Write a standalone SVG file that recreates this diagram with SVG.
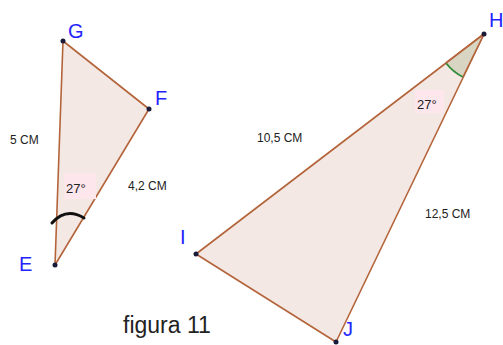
<svg xmlns="http://www.w3.org/2000/svg" width="503" height="345" viewBox="0 0 503 345">
<style>
.tri{fill:#f3e8e3;stroke:#b4643a;stroke-width:1.6;stroke-linejoin:round}
.pt{fill:#1a1a3a}
.lbl{font-family:"Liberation Sans",Arial,sans-serif;font-size:20px;fill:#2323ff}
.m{font-family:"Liberation Sans",Arial,sans-serif;font-size:12px;fill:#222}
.ang{font-family:"Liberation Sans",Arial,sans-serif;font-size:13px;fill:#222}
.tag{fill:#fde6ec}
</style>
<rect width="503" height="345" fill="#ffffff"/>
<g id="connectors"></g>
<g id="triangle-EFG">
<polygon class="tri" points="63,41 149,109 55,265"/>
<rect class="tag" x="64" y="173" width="32" height="26"/>
<text class="ang" x="66" y="193">27°</text>
<path id="arcE" d="M52,223 Q66,207 84,218" fill="none" stroke="#111" stroke-width="3" stroke-linecap="round"/>
<circle class="pt" cx="63" cy="41" r="2.5"/>
<circle class="pt" cx="149" cy="109" r="2.5"/>
<circle class="pt" cx="55" cy="265" r="2.5"/>
</g>
<g id="triangle-HIJ">
<polygon class="tri" points="484,34 196,254 336,342"/>
<path d="M484,34 L446,63 A48,48 0 0 0 463,77 Z" fill="#d9d5c3" stroke="none"/>
<path d="M446,63 A48,48 0 0 0 463,77" fill="none" stroke="#2e8b3a" stroke-width="1.8"/>
<polyline points="446,63 484,34 463,77" fill="none" stroke="#b4643a" stroke-width="1.6"/>
<rect class="tag" x="415" y="90" width="29" height="23"/>
<text class="ang" x="417" y="109">27°</text>
<circle class="pt" cx="484" cy="34" r="2.5"/>
<circle class="pt" cx="196" cy="254" r="2.5"/>
<circle class="pt" cx="336" cy="342" r="2.5"/>
</g>
<g id="labels">
<text class="lbl" x="68" y="38">G</text>
<text class="lbl" x="155" y="105">F</text>
<text class="lbl" x="19" y="271">E</text>
<text class="lbl" x="489" y="27">H</text>
<text class="lbl" x="180" y="244">I</text>
<text class="lbl" x="343" y="336">J</text>
<text class="m" x="10" y="144">5 CM</text>
<text class="m" x="128" y="190">4,2 CM</text>
<text class="m" x="257" y="142">10,5 CM</text>
<text class="m" x="425" y="218">12,5 CM</text>
<text x="123" y="333" font-family="'Liberation Sans',Arial,sans-serif" font-size="23" fill="#222">figura 11</text>
</g>
</svg>
